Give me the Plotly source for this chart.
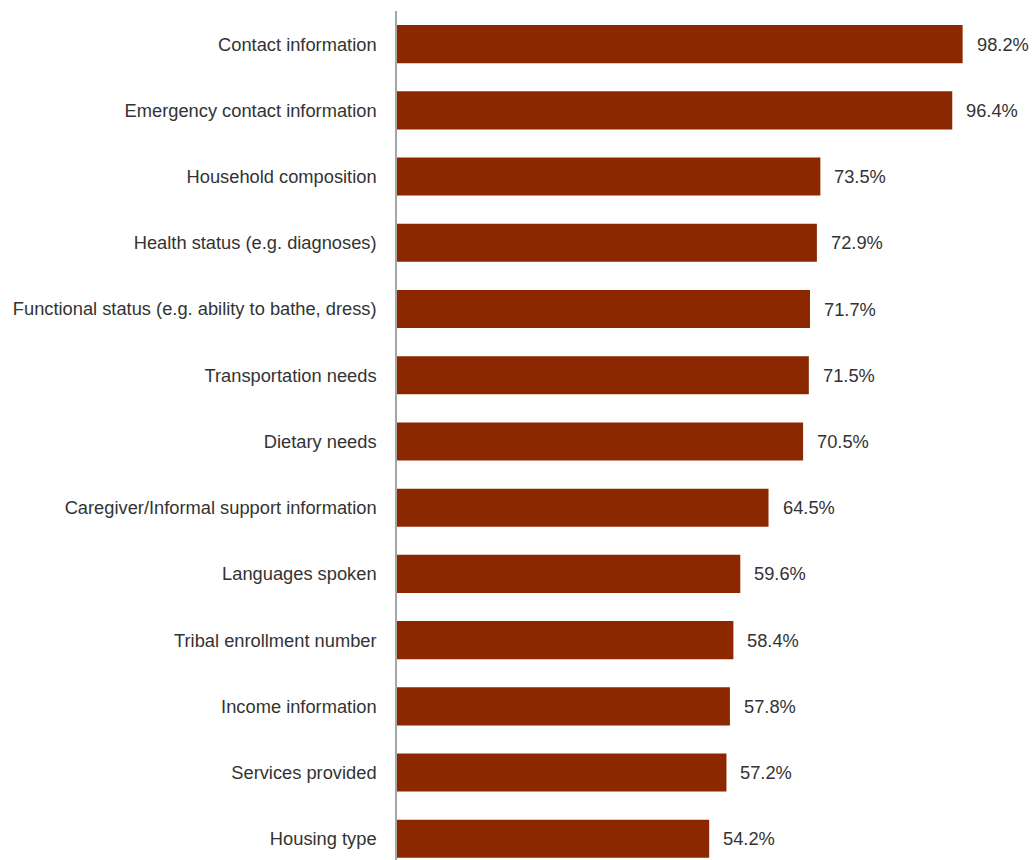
import plotly.graph_objects as go

categories = [
    "Contact information",
    "Emergency contact information",
    "Household composition",
    "Health status (e.g. diagnoses)",
    "Functional status (e.g. ability to bathe, dress)",
    "Transportation needs",
    "Dietary needs",
    "Caregiver/Informal support information",
    "Languages spoken",
    "Tribal enrollment number",
    "Income information",
    "Services provided",
    "Housing type",
]
values = [98.2, 96.4, 73.5, 72.9, 71.7, 71.5, 70.5, 64.5, 59.6, 58.4, 57.8, 57.2, 54.2]
value_labels = [f"{v:.1f}%" for v in values]

BAR_COLOR = "#8b2800"
TEXT_COLOR = "#333333"
FONT = "Liberation Sans, Arial, sans-serif"
FONT_SIZE = 18.3

fig = go.Figure()
fig.add_trace(go.Bar(
    x=values,
    y=categories,
    orientation="h",
    marker=dict(color=BAR_COLOR, line=dict(width=0)),
    width=0.575,
    hoverinfo="x+y",
))

for cat, v, lab in zip(categories, values, value_labels):
    fig.add_annotation(
        x=v, y=cat, text=lab, showarrow=False,
        xanchor="left", yanchor="middle", xshift=12,
        font=dict(family=FONT, size=FONT_SIZE, color=TEXT_COLOR),
    )

fig.update_layout(
    width=1032, height=860,
    margin=dict(l=397, r=59, t=11, b=0, pad=0),
    plot_bgcolor="white",
    paper_bgcolor="white",
    showlegend=False,
    font=dict(family=FONT, size=FONT_SIZE, color=TEXT_COLOR),
)
fig.update_xaxes(
    range=[0, 100], visible=False, showgrid=False, zeroline=False,
)
fig.update_yaxes(
    type="category",
    categoryorder="array", categoryarray=categories,
    range=[12.32, -0.5],
    showline=True, linecolor="#a6a6a6", linewidth=1.5,
    ticks="", showgrid=False, zeroline=False,
    ticklabelstandoff=15,
    tickfont=dict(family=FONT, size=FONT_SIZE, color=TEXT_COLOR),
)

fig.write_html("out.html")
